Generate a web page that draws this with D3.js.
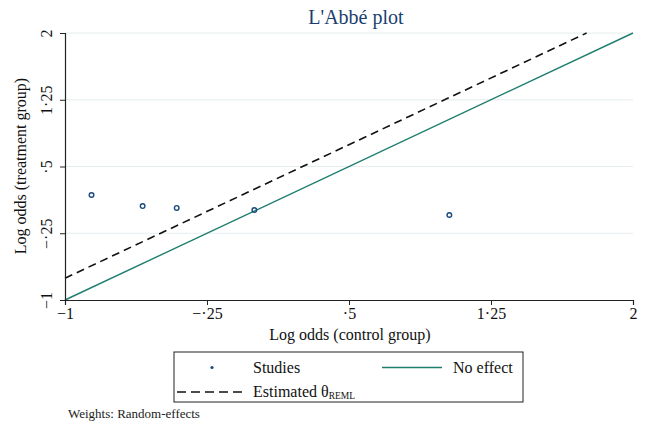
<!DOCTYPE html>
<html><head><meta charset="utf-8">
<script src="https://cdn.jsdelivr.net/npm/d3@7"></script>
<style>body{margin:0;background:#fff}svg{display:block}text{font-family:"Liberation Serif","Times New Roman",serif}</style>
</head><body>
<script>
const controlLogOdds = [-0.86, -0.59, -0.41, 0.0, 1.03];
const treatmentLogOdds = [0.18, 0.055, 0.035, 0.01, -0.045];
const tickValues = [-1, -0.25, 0.5, 1.25, 2];
const tickLabels = ["\u22121", "\u2212\u00b725", "\u00b75", "1\u00b725", "2"];
const remlOffset = 0.245;

const W = 645, H = 428;
const svg = d3.select("body").append("svg").attr("width", W).attr("height", H);
const x = d3.scaleLinear().domain([-1, 2]).range([65, 633]);
const y = d3.scaleLinear().domain([-1, 2]).range([300, 33]);
const fmt = d => tickLabels[tickValues.indexOf(d)];

// gridlines
svg.append("g").selectAll("line").data(tickValues.slice(1)).join("line")
  .attr("x1", x(-1)).attr("x2", x(2)).attr("y1", d => y(d)).attr("y2", d => y(d))
  .attr("stroke", "#e6eef0").attr("stroke-width", 1);

// no effect line
svg.append("line").attr("x1", x(-1)).attr("y1", y(-1)).attr("x2", x(2)).attr("y2", y(2))
  .attr("stroke", "#1f7f6f").attr("stroke-width", 1.4);
// estimated line
const xe = 2 - remlOffset;
svg.append("line").attr("x1", x(-1)).attr("y1", y(-1 + remlOffset)).attr("x2", x(xe)).attr("y2", y(2))
  .attr("stroke", "#111").attr("stroke-width", 1.6).attr("stroke-dasharray", "8,5");

// axes
const xa = svg.append("g").attr("transform", `translate(0,${y(-1)})`)
  .call(d3.axisBottom(x).tickValues(tickValues).tickFormat(fmt).tickSize(5).tickPadding(3));
const ya = svg.append("g").attr("transform", `translate(${x(-1)},0)`)
  .call(d3.axisLeft(y).tickValues(tickValues).tickFormat(fmt).tickSize(5).tickPadding(3));
[xa, ya].forEach(a => {
  a.select(".domain").attr("stroke", "#222").attr("stroke-width", 1.2);
  a.selectAll(".tick line").attr("stroke", "#222");
  a.selectAll("text").attr("font-size", 16).attr("fill", "#111").attr("font-family", "Liberation Serif");
});
ya.selectAll(".tick text").attr("text-anchor", "middle").attr("transform", "rotate(-90)")
  .attr("x", 0).attr("dy", 0).attr("y", -13);

// points
svg.append("g").selectAll("circle").data(controlLogOdds).join("circle")
  .attr("cx", (d) => x(d)).attr("cy", (d, i) => y(treatmentLogOdds[i])).attr("r", 2.3)
  .attr("fill", "none").attr("stroke", "#1a4a7f").attr("stroke-width", 1.4);

// title
svg.append("text").attr("x", 356).attr("y", 24).attr("text-anchor", "middle")
  .attr("font-size", 20).attr("fill", "#1a3f6f").text("L'Abbé plot");
// axis titles
svg.append("text").attr("x", 350).attr("y", 340).attr("text-anchor", "middle")
  .attr("font-size", 16).attr("fill", "#111").text("Log odds (control group)");
svg.append("text").attr("transform", "translate(26,166) rotate(-90)").attr("text-anchor", "middle")
  .attr("font-size", 16).attr("fill", "#111").text("Log odds (treatment group)");

// legend
const lg = svg.append("g");
lg.append("rect").attr("x", 174).attr("y", 352).attr("width", 349).attr("height", 50)
  .attr("fill", "#fff").attr("stroke", "#222").attr("stroke-width", 1);
lg.append("circle").attr("cx", 212).attr("cy", 367.5).attr("r", 1.6).attr("fill", "#1a4a7f");
lg.append("text").attr("x", 253).attr("y", 373).attr("font-size", 16).attr("fill", "#111").text("Studies");
lg.append("line").attr("x1", 382).attr("x2", 442).attr("y1", 367.5).attr("y2", 367.5)
  .attr("stroke", "#1f7f6f").attr("stroke-width", 1.4);
lg.append("text").attr("x", 453).attr("y", 373).attr("font-size", 16).attr("fill", "#111").text("No effect");
lg.append("line").attr("x1", 177).attr("x2", 243).attr("y1", 392).attr("y2", 392)
  .attr("stroke", "#111").attr("stroke-width", 1.6).attr("stroke-dasharray", "9,5");
const t2 = lg.append("text").attr("x", 253).attr("y", 397).attr("font-size", 16).attr("fill", "#111");
t2.append("tspan").text("Estimated \u03b8");
t2.append("tspan").attr("font-size", 9.5).attr("dy", 2).text("REML");

svg.append("text").attr("x", 68).attr("y", 418).attr("font-size", 13).attr("fill", "#222").text("Weights: Random-effects");
</script>
</body></html>
